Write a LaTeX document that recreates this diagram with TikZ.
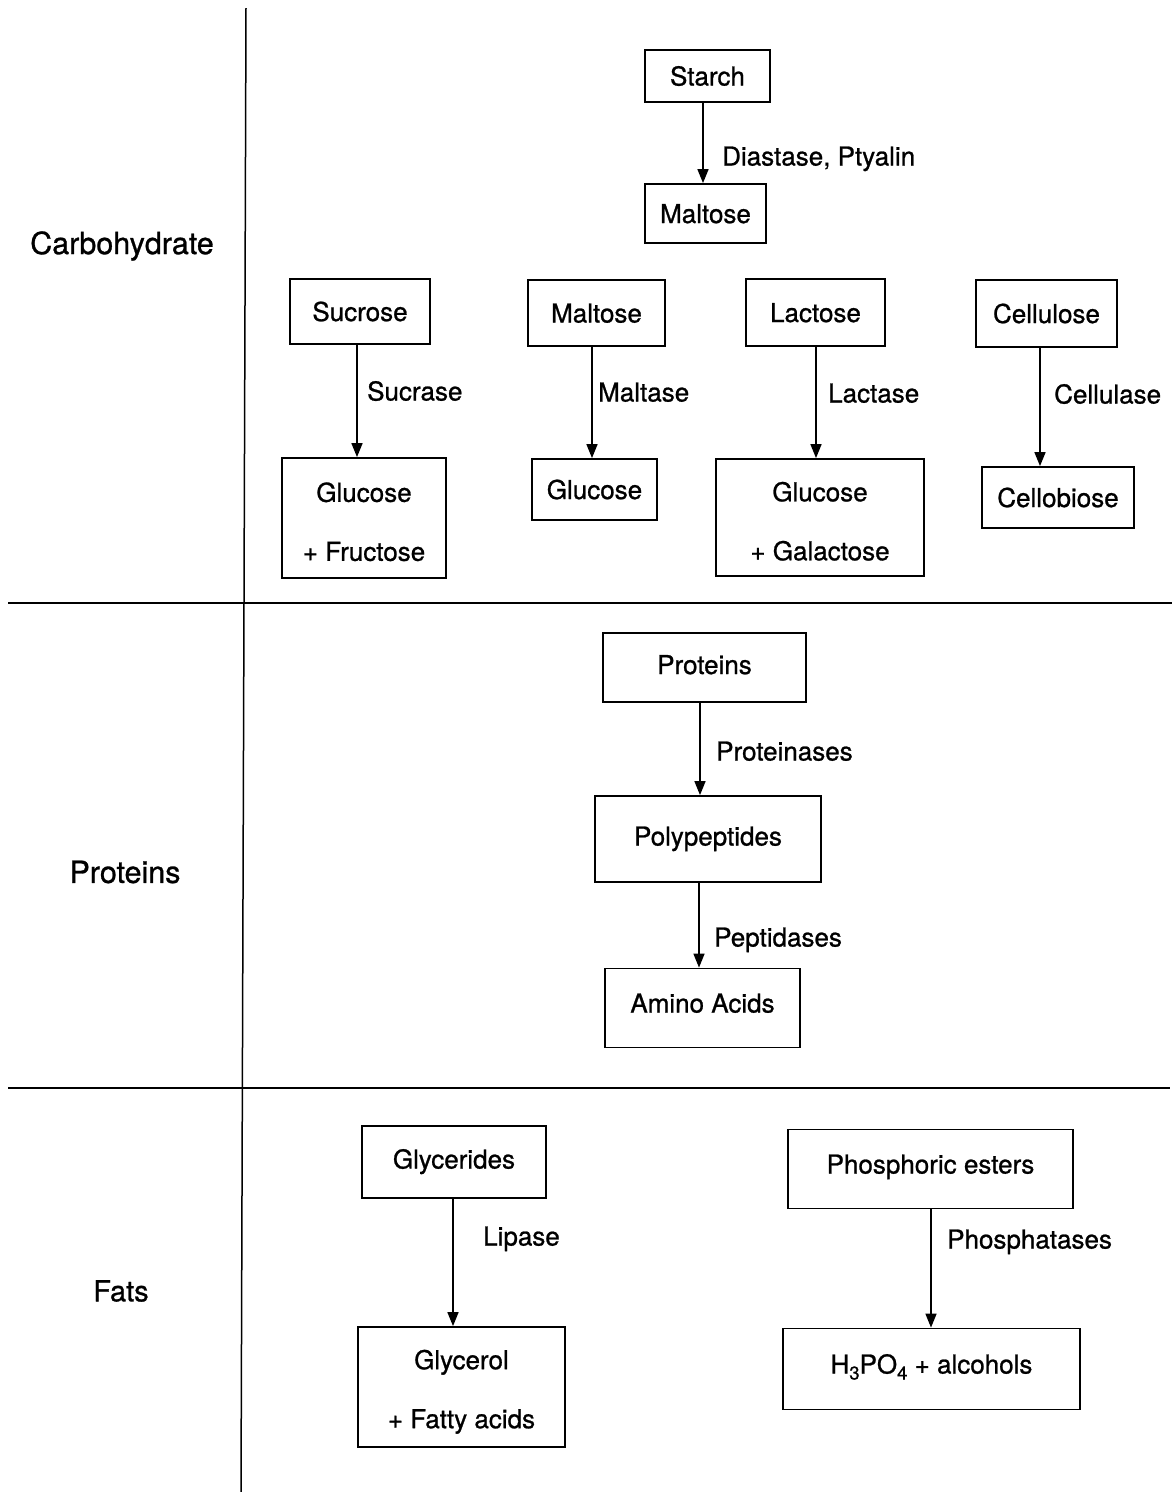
\documentclass[tikz,border=0pt]{standalone}
\usepackage{fontspec}
\setmainfont{TeX Gyre Heros}[FakeBold=0.9]
\usetikzlibrary{arrows.meta}
\newcommand{\sbs}[1]{\raisebox{-6pt}{\fontsize{18.5}{18.5}\selectfont #1}}
\newcommand{\toplift}[1]{\rule{0pt}{#1}}
\begin{document}
\begin{tikzpicture}[x=1pt,y=-1pt,
  every node/.style={font=\fontsize{26}{59}\selectfont},
  boxbase/.style={draw,line width=1.8pt,inner sep=0pt,align=center},
  box/.style={boxbase,text height=18pt,text depth=5pt},
  boxlow/.style={boxbase,text height=20pt,text depth=1pt},
  boxhigh/.style={boxbase,text height=16pt,text depth=7pt},
  enz/.style={anchor=west,inner sep=0pt,text height=18pt,text depth=5pt},
  side/.style={inner sep=0pt,font=\fontsize{30.5}{36}\selectfont},
  arr/.style={line width=1.6pt,-{Triangle[length=14pt,width=11pt]}},
  rule/.style={line width=1.5pt}]
\useasboundingbox (0,0) rectangle (1174,1492);
% frame lines
\draw[rule] (246,8) -- (241,1492);
\draw[rule] (8,603) -- (1172,603);
\draw[rule] (8,1088) -- (1170,1088);
% side labels
\node[side] (lcarb) at (122,246) {Carbohydrate};
\node[side] (lprot) at (125,872) {Proteins};
\node[side,font=\fontsize{29}{34}\selectfont] (lfats) at (121,1291) {Fats};
% carbohydrates
\node[boxlow,minimum width=125,minimum height=52] (starch) at (707.5,76) {Starch};
\node[boxlow,minimum width=121,minimum height=59] (maltoseA) at (705.5,213.5) {Maltose};
\node[boxlow,minimum width=140,minimum height=65] (sucrose) at (360,311.5) {Sucrose};
\node[boxlow,minimum width=137,minimum height=66] (maltoseB) at (596.5,313) {Maltose};
\node[boxlow,minimum width=139,minimum height=67] (lactose) at (815.5,312.5) {Lactose};
\node[boxlow,minimum width=141,minimum height=67] (cellulose) at (1046.5,313.5) {Cellulose};
\node[boxbase,minimum width=164,minimum height=120] (glufru) at (364,518) {\toplift{27pt}Glucose\\+ Fructose};
\node[boxlow,minimum width=125,minimum height=61] (glucose) at (594.5,489.5) {Glucose};
\node[boxbase,minimum width=208,minimum height=117] (glugal) at (820,517.5) {\toplift{27pt}Glucose\\+ Galactose};
\node[boxlow,minimum width=152,minimum height=61] (cellobiose) at (1058,497.5) {Cellobiose};
\draw[arr] ([xshift=-4.5]starch.south) -- ([xshift=-4.5]starch.south |- maltoseA.north);
\draw[arr] ([xshift=-3]sucrose.south) -- ([xshift=-3]sucrose.south |- glufru.north);
\draw[arr] ([xshift=-4.5]maltoseB.south) -- ([xshift=-4.5]maltoseB.south |- glucose.north);
\draw[arr] ([xshift=0.5]lactose.south) -- ([xshift=0.5]lactose.south |- glugal.north);
\draw[arr] ([xshift=-6.5]cellulose.south) -- ([xshift=-6.5]cellulose.south |- cellobiose.north);
\node[enz] (e1) at (722,159) {Diastase, Ptyalin};
\node[enz] (e2) at (367,394) {Sucrase};
\node[enz] (e3) at (598,395) {Maltase};
\node[enz] (e4) at (828,396) {Lactase};
\node[enz] (e5) at (1054,397) {Cellulase};
% proteins
\node[box,minimum width=203,minimum height=69] (proteins) at (704.5,667.5) {Proteins};
\node[box,minimum width=226,minimum height=86] (polypep) at (708,839) {Polypeptides};
\node[boxhigh,minimum width=195,minimum height=79] (amino) at (702.5,1008) {Amino Acids};
\draw[arr] ([xshift=-4.5]proteins.south) -- ([xshift=-4.5]proteins.south |- polypep.north);
\draw[arr] ([xshift=-9]polypep.south) -- ([xshift=-9]polypep.south |- amino.north);
\node[enz] (e6) at (716,754) {Proteinases};
\node[enz] (e7) at (714,940) {Peptidases};
% fats
\node[box,minimum width=184,minimum height=72] (glycerides) at (454,1162) {Glycerides};
\node[boxbase,minimum width=207,minimum height=120] (glycerol) at (461.5,1387) {\toplift{29pt}Glycerol\\+ Fatty acids};
\node[boxhigh,minimum width=285,minimum height=79] (phosph) at (930.5,1169) {Phosphoric esters};
\node[boxhigh,minimum width=297,minimum height=81] (h3po4) at (931.5,1369) {H\sbs{3}PO\sbs{4} + alcohols};
\draw[arr] ([xshift=-1]glycerides.south) -- ([xshift=-1]glycerides.south |- glycerol.north);
\draw[arr] ([xshift=0.5]phosph.south) -- ([xshift=0.5]phosph.south |- h3po4.north);
\node[enz] (e8) at (483,1239) {Lipase};
\node[enz] (e9) at (947,1242) {Phosphatases};
\end{tikzpicture}
\end{document}
